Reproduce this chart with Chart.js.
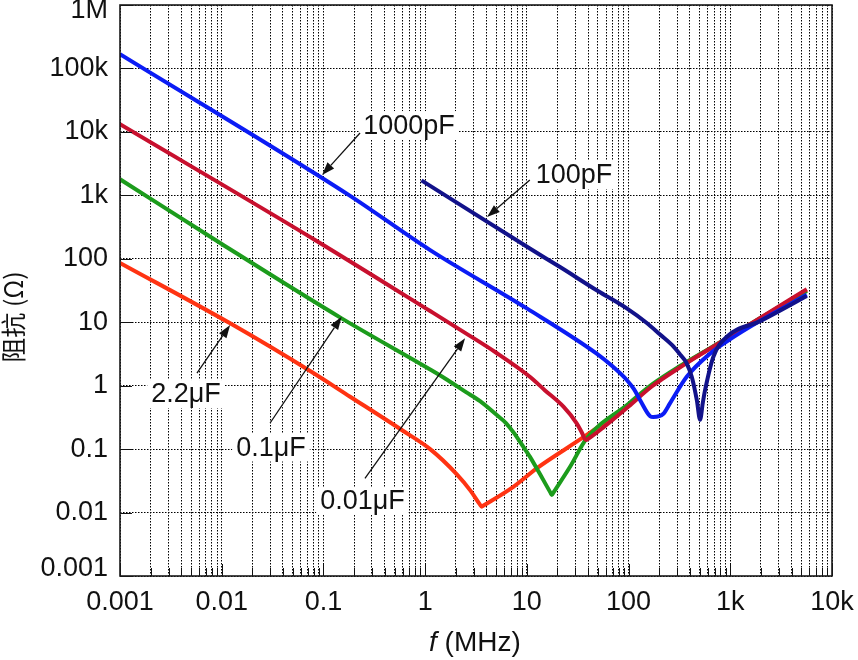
<!DOCTYPE html>
<html>
<head>
<meta charset="utf-8">
<script src="https://cdn.jsdelivr.net/npm/chart.js@4.4.1/dist/chart.umd.min.js"></script>
<style>
  html, body { margin: 0; padding: 0; background: #fff; }
  #wrap { width: 858px; height: 660px; }
</style>
</head>
<body>
<div id="wrap"><canvas id="chart" width="858" height="660"></canvas></div>
<script>
// frequency (MHz) / impedance (ohm)
const f2u2 = [0.001, 0.0121, 0.074, 0.183, 0.589, 1.12, 2.05, 2.8, 3.45, 3.6, 3.75, 7.36, 12.5, 38.8, 100, 169, 321, 1000, 1714, 5650];
const z2u2 = [86, 9.6, 1.7, 0.67, 0.2, 0.1, 0.04, 0.022, 0.01345, 0.0124, 0.0129, 0.0255, 0.0498, 0.167, 0.5, 1.0, 2.0, 5.9, 10, 32];

const f100n = [0.001, 0.01, 0.151, 1.12, 1.57, 2.5, 3.47, 5, 6.2, 7.36, 8.8, 10.7, 13.5, 17.0, 17.6, 18.3, 26.6, 38.8, 100, 169, 321, 1000, 1714, 5650];
const z100n = [1790, 171, 11.5, 1.8, 1.3, 0.8, 0.57, 0.35, 0.26, 0.185, 0.122, 0.076, 0.04, 0.0208, 0.0189, 0.0208, 0.0527, 0.148, 0.52, 1.04, 2.05, 6.0, 10.2, 31];

const f10n = [0.001, 0.0826, 1.12, 2.47, 5, 10.7, 15, 22.9, 30.9, 34.5, 38.2, 40, 56.5, 100, 169, 321, 1000, 1714, 5650];
const z10n = [13200, 198, 15, 6.8, 3.3, 1.38, 0.85, 0.466, 0.255, 0.186, 0.139, 0.145, 0.22, 0.47, 0.97, 1.95, 6.0, 10.2, 33];

const f1000p = [0.001, 0.18, 1.12, 10, 48.6, 70, 96, 113, 130, 163, 175, 220, 256, 373, 632, 1000, 1963, 5650];
const z1000p = [168000, 1000, 137, 16.5, 3.2, 2.0, 1.23, 0.88, 0.59, 0.33, 0.32, 0.36, 0.53, 1.38, 3.2, 5.4, 10.5, 27];

const f100p = [0.92, 10.7, 21.2, 50, 96, 150, 204, 270, 321, 370, 418, 469, 505, 536, 565, 682, 925, 1963, 5650];
const z100p = [1720, 145, 74, 31, 16.5, 9.8, 6.4, 4.3, 3.1, 2.3, 1.38, 0.59, 0.29, 0.53, 0.85, 2.86, 5.9, 10.4, 26];

const xDecades = [0.001, 0.01, 0.1, 1, 10, 100, 1000, 10000];
const xTickLabels = ['0.001', '0.01', '0.1', '1', '10', '100', '1k', '10k'];
const yDecades = [0.001, 0.01, 0.1, 1, 10, 100, 1000, 10000, 100000, 1000000];
const yTickLabels = ['0.001', '0.01', '0.1', '1', '10', '100', '1k', '10k', '100k', '1M'];

// label text, label centre, arrow tail, arrow tip  (all in f, Z)
const notes = [
  {text: '1000pF', at: [0.695, 12800], from: [0.229, 9600], to: [0.097, 2090]},
  {text: '100pF', at: [29.1, 2090], from: [10.7, 1740], to: [4.06, 455]},
  {text: '2.2\u03bcF', at: [0.00446, 0.738], from: [0.00571, 1.58], to: [0.0121, 9.04]},
  {text: '0.1\u03bcF', at: [0.0305, 0.106], from: [0.0299, 0.258], to: [0.151, 12.2]},
  {text: '0.01\u03bcF', at: [0.242, 0.0152], from: [0.256, 0.0346], to: [2.47, 5.57]}
];

const FONT = "'Liberation Sans', Arial, sans-serif";

function pts(f, z) {
  return f.map((v, i) => ({x: v, y: z[i]}));
}

const overlay = {
  id: 'overlay',
  afterDatasetsDraw(chart) {
    const ctx = chart.ctx;
    const a = chart.chartArea;
    const xs = chart.scales.x, ys = chart.scales.y;
    ctx.save();

    // inward tick marks
    ctx.strokeStyle = '#111';
    ctx.lineWidth = 1;
    ctx.beginPath();
    xs.ticks.forEach(t => {
      const px = Math.round(xs.getPixelForValue(t.value)) + 0.5;
      const len = xDecades.includes(t.value) ? 12 : 8;
      ctx.moveTo(px, a.bottom);
      ctx.lineTo(px, a.bottom - len);
    });
    ys.ticks.forEach(t => {
      const py = Math.round(ys.getPixelForValue(t.value)) + 0.5;
      ctx.moveTo(a.left, py);
      ctx.lineTo(a.left + 12, py);
    });
    ctx.stroke();

    // frame
    ctx.lineWidth = 1.6;
    ctx.strokeStyle = '#1a1a1a';
    ctx.strokeRect(a.left, a.top, a.right - a.left, a.bottom - a.top);

    // end labels of the y axis, nudged inside like the original
    ctx.fillStyle = '#111';
    ctx.font = '27px ' + FONT;
    ctx.textAlign = 'right';
    ctx.textBaseline = 'middle';
    ctx.fillText(yTickLabels[yTickLabels.length - 1], a.left - 12, ys.getPixelForValue(1e6) + 6);
    ctx.fillText(yTickLabels[0], a.left - 12, ys.getPixelForValue(0.001) - 7);

    // annotations
    notes.forEach(n => {
      const tx = xs.getPixelForValue(n.at[0]), ty = ys.getPixelForValue(n.at[1]);
      const x1 = xs.getPixelForValue(n.from[0]), y1 = ys.getPixelForValue(n.from[1]);
      const x2 = xs.getPixelForValue(n.to[0]), y2 = ys.getPixelForValue(n.to[1]);
      const w = ctx.measureText(n.text).width;
      ctx.fillStyle = '#fff';
      ctx.fillRect(tx - w / 2 - 4, ty - 14, w + 8, 28);

      ctx.strokeStyle = '#111';
      ctx.lineWidth = 1.3;
      const ang = Math.atan2(y2 - y1, x2 - x1);
      const hl = 13, hw = 4.5;
      const bx = x2 - hl * Math.cos(ang), by = y2 - hl * Math.sin(ang);
      ctx.beginPath();
      ctx.moveTo(x1, y1);
      ctx.lineTo(bx, by);
      ctx.stroke();
      ctx.fillStyle = '#111';
      ctx.beginPath();
      ctx.moveTo(x2, y2);
      ctx.lineTo(bx + hw * Math.sin(ang), by - hw * Math.cos(ang));
      ctx.lineTo(bx - hw * Math.sin(ang), by + hw * Math.cos(ang));
      ctx.closePath();
      ctx.fill();

      ctx.textAlign = 'center';
      ctx.textBaseline = 'middle';
      ctx.fillText(n.text, tx, ty + 1);
    });
    ctx.restore();
  },
  afterDraw(chart) {
    const ctx = chart.ctx;
    ctx.save();
    ctx.fillStyle = '#111';
    // y title
    ctx.translate(13, 317);
    ctx.rotate(-Math.PI / 2);
    ctx.font = "25px 'Noto Sans CJK SC', sans-serif";
    ctx.textAlign = 'center';
    ctx.textBaseline = 'middle';
    ctx.fillText('阻抗 (Ω)', 0, 0);
    ctx.restore();

    // x title, italic f
    ctx.save();
    ctx.fillStyle = '#111';
    ctx.textBaseline = 'alphabetic';
    ctx.textAlign = 'left';
    ctx.font = 'italic 28px ' + FONT;
    const fw = ctx.measureText('f').width;
    ctx.fillText('f', 429, 651);
    ctx.font = '28px ' + FONT;
    ctx.fillText(' (MHz)', 429 + fw, 651);
    ctx.restore();
  }
};

const lineStyle = {pointRadius: 0, borderWidth: 4, fill: false, cubicInterpolationMode: 'monotone'};

new Chart(document.getElementById('chart').getContext('2d'), {
  type: 'line',
  data: {
    datasets: [
      {label: '100pF', data: pts(f100p, z100p), borderColor: '#12128a', order: 0, ...lineStyle},
      {label: '1000pF', data: pts(f1000p, z1000p), borderColor: '#0b1cf5', order: 1, ...lineStyle},
      {label: '0.01\u03bcF', data: pts(f10n, z10n), borderColor: '#c8102e', order: 2, ...lineStyle},
      {label: '0.1\u03bcF', data: pts(f100n, z100n), borderColor: '#1c9c1c', order: 3, ...lineStyle},
      {label: '2.2\u03bcF', data: pts(f2u2, z2u2), borderColor: '#ff3312', order: 4, ...lineStyle}
    ]
  },
  options: {
    responsive: false,
    animation: false,
    devicePixelRatio: 1,
    layout: {padding: {left: 0, top: 5, right: 26, bottom: 0}},
    plugins: {legend: {display: false}, tooltip: {enabled: false}, title: {display: false}},
    scales: {
      x: {
        type: 'logarithmic',
        min: 0.001, max: 10000,
        afterBuildTicks: (scale) => {
          const ticks = [];
          xDecades.forEach((d, i) => {
            ticks.push({value: d});
            if (i < xDecades.length - 1) {
              for (let k = 2; k <= 9; k++) ticks.push({value: +(d * k).toPrecision(3)});
            }
          });
          scale.ticks = ticks;
        },
        afterFit: (scale) => {
          scale.height = 84;
          scale.paddingLeft = 0;
          scale.paddingRight = 0;
        },
        ticks: {
          autoSkip: false, maxRotation: 0, minRotation: 0, padding: 10,
          color: '#111', font: {family: FONT, size: 27},
          callback: (value) => {
            const i = xDecades.indexOf(value);
            return i >= 0 ? xTickLabels[i] : '';
          }
        },
        grid: {color: '#000', lineWidth: 1, drawTicks: false},
        border: {display: false, dash: [1.5, 1.5]}
      },
      y: {
        type: 'logarithmic',
        min: 0.001, max: 1000000,
        afterBuildTicks: (scale) => {
          scale.ticks = yDecades.map(v => ({value: v}));
        },
        afterFit: (scale) => {
          scale.width = 120;
          scale.paddingTop = 0;
          scale.paddingBottom = 0;
        },
        ticks: {
          autoSkip: false, padding: 12,
          color: '#111', font: {family: FONT, size: 27},
          callback: (value) => {
            const i = yDecades.indexOf(value);
            if (i === 0 || i === yDecades.length - 1) return '';
            return i >= 0 ? yTickLabels[i] : '';
          }
        },
        grid: {color: '#000', lineWidth: 1, drawTicks: false},
        border: {display: false, dash: [1.5, 1.5]}
      }
    }
  },
  plugins: [overlay]
});
</script>
</body>
</html>
